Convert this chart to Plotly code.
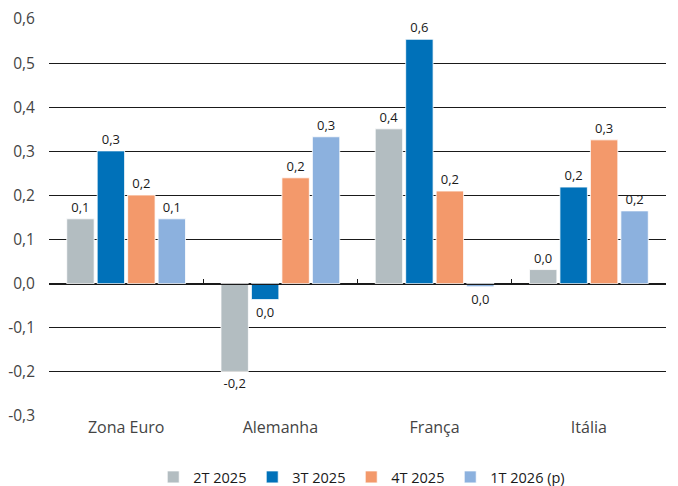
import plotly.graph_objects as go

categories = ["Zona Euro", "Alemanha", "França", "Itália"]
series_names = ["2T 2025", "3T 2025", "4T 2025", "1T 2026 (p)"]
s_2t2025 = [0.147, -0.199, 0.351, 0.032]
s_3t2025 = [0.301, -0.036, 0.554, 0.219]
s_4t2025 = [0.201, 0.240, 0.210, 0.326]
s_1t2026 = [0.147, 0.333, -0.007, 0.165]
colors = ["#B3BDC1", "#0071B9", "#F3996B", "#8CB1DE"]
legend_widths = [54, 54, 54, 110]
y_tickvals = [-0.3, -0.2, -0.1, 0.0, 0.1, 0.2, 0.3, 0.4, 0.5, 0.6]
y_ticktext = ["-0,3", "-0,2", "-0,1", "0,0", "0,1", "0,2", "0,3", "0,4", "0,5", "0,6"]
boundaries = [-0.5, 0.5, 1.5, 2.5, 3.5]


def fmt(v):
    r = round(v, 1)
    if r == 0:
        r = 0.0
    return f"{r:.1f}".replace("-0.0", "0.0").replace(".", ",")


fig = go.Figure()
for name, vals, col, lw in zip(series_names, [s_2t2025, s_3t2025, s_4t2025, s_1t2026],
                               colors, legend_widths):
    fig.add_trace(go.Bar(
        x=categories, y=vals, name=name, legendwidth=lw,
        marker=dict(color=col, line=dict(color="white", width=0.8)),
        text=[fmt(v) for v in vals], textposition="outside",
        textfont=dict(family="Open Sans", size=13, color="#1a1a1a", weight=500),
        cliponaxis=False,
    ))

# invisible helper trace so the zero-line axis (with boundary ticks) is drawn
fig.add_trace(go.Scatter(
    x=[boundaries[0], boundaries[-1]], y=[0, 0], xaxis="x2", mode="lines",
    line=dict(width=0), opacity=0, showlegend=False, hoverinfo="skip",
))

fig.update_layout(
    width=678, height=486,
    margin=dict(l=49, r=12, t=19, b=70, autoexpand=False),
    paper_bgcolor="white", plot_bgcolor="white",
    barmode="group", bargap=0.21, bargroupgap=0.1,
    font=dict(family="Open Sans", size=14, color="#333333"),
    showlegend=True,
    legend=dict(orientation="h", x=0.226, xanchor="left", xref="container",
                y=0.0185, yanchor="middle", yref="container",
                font=dict(size=14.5, color="#1a1a1a", weight=500),
                traceorder="normal"),
    xaxis=dict(showline=False, ticks="", showgrid=False, automargin=False,
               tickfont=dict(size=16, color="#444444")),
    yaxis=dict(range=[-0.3, 0.6], tickvals=y_tickvals, ticktext=y_ticktext,
               showgrid=True, gridcolor="#1a1a1a", gridwidth=1,
               zeroline=True, zerolinecolor="#1a1a1a", zerolinewidth=1,
               showline=False, ticks="", ticklabelstandoff=13, automargin=False,
               tickfont=dict(size=15.5, color="#444444")),
    xaxis2=dict(overlaying="x", anchor="free", position=1/3, type="linear",
                range=[boundaries[0], boundaries[-1]], tickvals=boundaries,
                ticks="inside", ticklen=5, tickcolor="#1a1a1a", showticklabels=False,
                showline=True, linecolor="#1a1a1a", showgrid=False, zeroline=False,
                automargin=False),
)

fig.write_html("out.html", config={"displayModeBar": False},
               post_script="document.body.style.margin='0';document.body.style.overflow='hidden';")
